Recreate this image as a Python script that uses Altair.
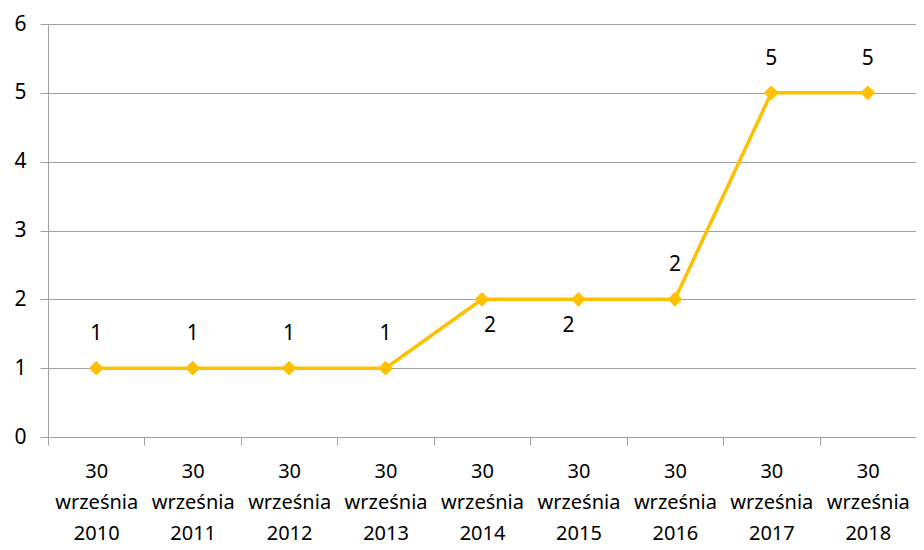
import altair as alt
import pandas as pd

categories = ["30|września|2010", "30|września|2011", "30|września|2012", "30|września|2013",
              "30|września|2014", "30|września|2015", "30|września|2016", "30|września|2017",
              "30|września|2018"]
values = [1, 1, 1, 1, 2, 2, 2, 5, 5]

df = pd.DataFrame({"cat": categories, "val": values})

FONT = "Noto Sans"
COLOR = "#FFC000"

x = alt.X("cat:N", sort=categories, title=None,
          scale=alt.Scale(paddingInner=0, paddingOuter=0),
          axis=alt.Axis(labelExpr="split(datum.label, '|')", labelAngle=0,
                        labelFontSize=20, labelFont=FONT, labelColor="#000000",
                        labelLineHeight=31, labelPadding=16, labelBaseline="top",
                        tickBand="extent", tickSize=8, tickColor="#A0A0A0",
                        domainColor="#A0A0A0", grid=False))
y = alt.Y("val:Q", title=None,
          scale=alt.Scale(domain=[0, 6], nice=False),
          axis=alt.Axis(values=[0, 1, 2, 3, 4, 5, 6], labelFontSize=21, labelFont=FONT,
                        labelColor="#000000", tickSize=8, tickColor="#A0A0A0",
                        domainColor="#A0A0A0", gridColor="#A0A0A0", labelPadding=14))

base = alt.Chart(df).encode(x=x, y=y)

line = base.mark_line(color=COLOR, strokeWidth=3.5)
pts = base.mark_point(shape="diamond", filled=True, color=COLOR, size=220, opacity=1)

txt_style = dict(font=FONT, fontSize=21, color="#000000", baseline="middle", align="center")
above = base.transform_filter(
    alt.FieldOneOfPredicate(field="cat", oneOf=[categories[i] for i in [0, 1, 2, 3, 6, 7, 8]])
).mark_text(dy=-34, **txt_style).encode(text="val:Q")
below_r = base.transform_filter(
    alt.FieldEqualPredicate(field="cat", equal=categories[4])
).mark_text(dy=27, dx=8, **txt_style).encode(text="val:Q")
below_l = base.transform_filter(
    alt.FieldEqualPredicate(field="cat", equal=categories[5])
).mark_text(dy=27, dx=-10, **txt_style).encode(text="val:Q")

chart = alt.layer(line, pts, above, below_r, below_l).properties(
    width=868, height=413,
    autosize=alt.AutoSizeParams(type="none"),
    padding={"left": 40, "top": 16, "right": 0, "bottom": 112},
).configure_view(stroke=None).configure(background="white")

chart.save("out.html", embed_options={"renderer": "svg", "actions": False})
